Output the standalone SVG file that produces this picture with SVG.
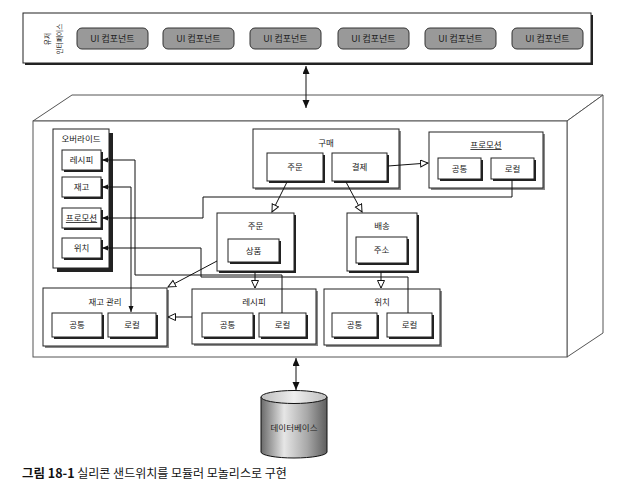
<svg xmlns="http://www.w3.org/2000/svg" width="621" height="486" viewBox="0 0 621 486">
<defs>
<style>
text{font-family:"Noto Sans CJK KR","Liberation Sans",sans-serif;fill:#222;font-size:8.5px;text-anchor:middle}
.box{fill:#fff;stroke:#222;stroke-width:1}
.sh{fill:#888}
.shd{fill:#222}
.ui{fill:#999;stroke:#333;stroke-width:1}
.face{fill:#fff;stroke:#555;stroke-width:1}
.con{fill:none;stroke:#111;stroke-width:1}
.u{text-decoration:underline}
</style>
<marker id="hol" markerUnits="userSpaceOnUse" markerWidth="10" markerHeight="10" refX="8" refY="4" orient="auto"><path d="M0.5,0.5 L8,4 L0.5,7.5 Z" fill="#fff" stroke="#111" stroke-width="1"/></marker>
<marker id="fil" markerUnits="userSpaceOnUse" markerWidth="8" markerHeight="8" refX="6" refY="2.5" orient="auto-start-reverse"><path d="M0,0 L6,2.5 L0,5 Z" fill="#111"/></marker>
<marker id="big" markerUnits="userSpaceOnUse" markerWidth="10" markerHeight="10" refX="8" refY="3.5" orient="auto-start-reverse"><path d="M0,0 L8,3.5 L0,7 Z" fill="#111"/></marker>
<linearGradient id="cyl" x1="0" y1="0" x2="1" y2="0">
<stop offset="0" stop-color="#6a6a6a"/>
<stop offset="0.35" stop-color="#e6e6e6"/>
<stop offset="0.7" stop-color="#a8a8a8"/>
<stop offset="1" stop-color="#5e5e5e"/>
</linearGradient>
<linearGradient id="cyltop" x1="0" y1="0" x2="1" y2="0">
<stop offset="0" stop-color="#bdbdbd"/>
<stop offset="0.5" stop-color="#eeeeee"/>
<stop offset="1" stop-color="#bdbdbd"/>
</linearGradient>
</defs>

<g id="user-interface">
<rect x="25" y="15" width="568" height="50" class="shd"/>
<rect x="23" y="13" width="568" height="50" class="box"/>
<text transform="translate(50,39) rotate(-90)" style="font-size:6.7px">유저</text>
<text transform="translate(62,39) rotate(-90)" style="font-size:6.7px">인터페이스</text>
<rect x="77" y="28" width="71" height="21" rx="5" class="ui"/><text x="112.5" y="42" style="font-size:9px">UI 컴포넌트</text>
<rect x="163" y="28" width="71" height="21" rx="5" class="ui"/><text x="198.5" y="42" style="font-size:9px">UI 컴포넌트</text>
<rect x="250" y="28" width="71" height="21" rx="5" class="ui"/><text x="285.5" y="42" style="font-size:9px">UI 컴포넌트</text>
<rect x="338" y="28" width="71" height="21" rx="5" class="ui"/><text x="373.5" y="42" style="font-size:9px">UI 컴포넌트</text>
<rect x="425" y="28" width="71" height="21" rx="5" class="ui"/><text x="460.5" y="42" style="font-size:9px">UI 컴포넌트</text>
<rect x="512" y="28" width="71" height="21" rx="5" class="ui"/><text x="547.5" y="42" style="font-size:9px">UI 컴포넌트</text>
</g>

<g id="monolith">
<polygon points="33,121 72,95 603,95 567,121" class="face"/>
<polygon points="567,121 603,95 603,333 567,357" class="face"/>
<rect x="33" y="121" width="534" height="236" class="face"/>
</g>

<g id="override">
<rect x="57" y="133" width="56" height="139" class="shd"/>
<rect x="53" y="129" width="56" height="139" class="box"/>
<text x="81" y="142">오버라이드</text>
<rect x="64" y="152" width="39" height="20" class="shd"/><rect x="62" y="150" width="39" height="20" class="box"/><text x="81.5" y="163">레시피</text>
<rect x="64" y="179" width="39" height="20" class="shd"/><rect x="62" y="177" width="39" height="20" class="box"/><text x="81.5" y="190">재고</text>
<rect x="64" y="210" width="39" height="20" class="shd"/><rect x="62" y="208" width="39" height="20" class="box"/><text x="81.5" y="221" class="u">프로모션</text>
<rect x="64" y="240" width="39" height="20" class="shd"/><rect x="62" y="238" width="39" height="20" class="box"/><text x="81.5" y="251">위치</text>
</g>

<g id="purchase">
<rect x="255" y="131" width="146" height="59" class="sh"/>
<rect x="253" y="129" width="146" height="59" class="box"/>
<text x="326" y="146">구매</text>
<rect x="269" y="155" width="56" height="28" class="shd"/><rect x="267" y="153" width="56" height="28" class="box"/><text x="295" y="170">주문</text>
<rect x="334" y="155" width="55" height="28" class="shd"/><rect x="332" y="153" width="55" height="28" class="box"/><text x="359.5" y="170">결제</text>
</g>

<g id="promotion">
<rect x="431" y="134" width="114" height="56" class="sh"/>
<rect x="429" y="132" width="114" height="56" class="box"/>
<text x="486" y="148" class="u">프로모션</text>
<rect x="440" y="160" width="43" height="21" class="shd"/><rect x="438" y="158" width="43" height="21" class="box"/><text x="459.5" y="171.5">공통</text>
<rect x="493" y="160" width="43" height="21" class="shd"/><rect x="491" y="158" width="43" height="21" class="box"/><text x="512.5" y="171.5">로컬</text>
</g>

<g id="order">
<rect x="219" y="215" width="77" height="58" class="shd"/>
<rect x="217" y="213" width="77" height="58" class="box"/>
<text x="255.5" y="229">주문</text>
<rect x="230" y="241" width="51" height="23" class="shd"/><rect x="228" y="239" width="51" height="23" class="box"/><text x="253.5" y="253.5">상품</text>
</g>

<g id="shipping">
<rect x="349" y="215" width="70" height="58" class="shd"/>
<rect x="347" y="213" width="70" height="58" class="box"/>
<text x="382" y="229">배송</text>
<rect x="358" y="239" width="51" height="26" class="shd"/><rect x="356" y="237" width="51" height="26" class="box"/><text x="381.5" y="253">주소</text>
</g>

<g id="inventory">
<rect x="45" y="290" width="124" height="58" class="sh"/>
<rect x="43" y="288" width="124" height="58" class="box"/>
<text x="105" y="305">재고 관리</text>
<rect x="54" y="315" width="50" height="24" class="shd"/><rect x="52" y="313" width="50" height="24" class="box"/><text x="77" y="328">공통</text>
<rect x="110" y="315" width="48" height="24" class="shd"/><rect x="108" y="313" width="48" height="24" class="box"/><text x="132" y="328">로컬</text>
</g>

<g id="recipe">
<rect x="194" y="291" width="124" height="55" class="sh"/>
<rect x="192" y="289" width="124" height="55" class="box"/>
<text x="254" y="305">레시피</text>
<rect x="204" y="315" width="51" height="24" class="shd"/><rect x="202" y="313" width="51" height="24" class="box"/><text x="227.5" y="328">공통</text>
<rect x="261" y="315" width="47" height="24" class="shd"/><rect x="259" y="313" width="47" height="24" class="box"/><text x="282.5" y="328">로컬</text>
</g>

<g id="location">
<rect x="326" y="291" width="116" height="56" class="sh"/>
<rect x="324" y="289" width="116" height="56" class="box"/>
<text x="382" y="305">위치</text>
<rect x="334" y="315" width="45" height="24" class="shd"/><rect x="332" y="313" width="45" height="24" class="box"/><text x="354.5" y="328">공통</text>
<rect x="389" y="315" width="45" height="24" class="shd"/><rect x="387" y="313" width="45" height="24" class="box"/><text x="409.5" y="328">로컬</text>
</g>

<g id="database">
<path d="M261,397 V452 A33,6 0 0 0 327,452 V397 Z" fill="url(#cyl)" stroke="#111" stroke-width="1"/>
<ellipse cx="294" cy="397" rx="33" ry="6.5" fill="url(#cyltop)" stroke="#111" stroke-width="1"/>
<text x="294" y="431">데이터베이스</text>
</g>

<g id="connectors">
<line x1="306" y1="66" x2="306" y2="108" class="con" marker-start="url(#big)" marker-end="url(#big)"/>
<line x1="296" y1="358" x2="296" y2="390" class="con" marker-start="url(#big)" marker-end="url(#big)"/>
<line x1="287" y1="182" x2="272" y2="212" class="con" marker-end="url(#hol)"/>
<line x1="346" y1="182" x2="362" y2="212" class="con" marker-end="url(#hol)"/>
<line x1="388" y1="166" x2="428" y2="163" class="con" marker-end="url(#hol)"/>
<line x1="217" y1="261" x2="168" y2="287" class="con" marker-end="url(#hol)"/>
<line x1="255" y1="272" x2="255" y2="288" class="con" marker-end="url(#hol)"/>
<line x1="381" y1="272" x2="381" y2="288" class="con" marker-end="url(#hol)"/>
<line x1="192" y1="317" x2="168" y2="317" class="con" marker-end="url(#hol)"/>
<polyline points="512,180 512,197 203,197 203,218 102,218" class="con" marker-end="url(#fil)"/>
<polyline points="282,313 282,275 135,275 135,160 102,160" class="con" marker-end="url(#fil)"/>
<polyline points="408,313 408,277 201,277 201,248 102,248" class="con" marker-end="url(#fil)"/>
<polyline points="102,187 131,187 131,312" class="con" marker-start="url(#fil)" marker-end="url(#fil)"/>
</g>

<g id="caption">
<text x="22" y="478" style="text-anchor:start;font-size:12.5px;fill:#111"><tspan font-weight="bold">그림 18-1</tspan><tspan style="font-size:12px"> 실리콘 샌드위치를 모듈러 모놀리스로 구현</tspan></text>
</g>
</svg>
